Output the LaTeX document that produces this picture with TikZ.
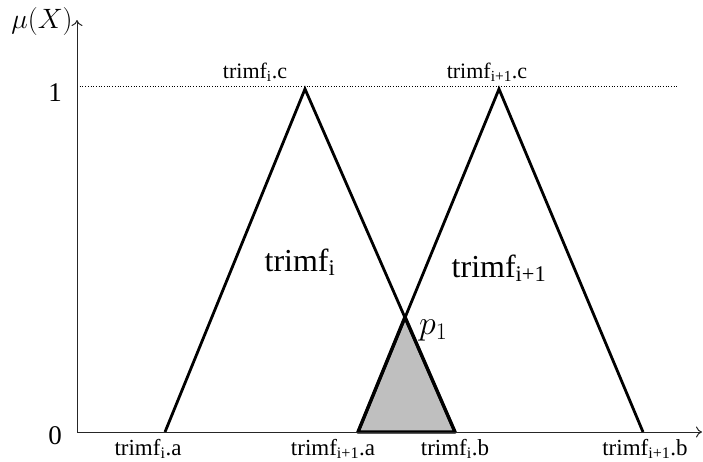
\RequirePackage{fix-cm}
\documentclass[tikz,border=0pt]{standalone}
\usepackage{fontspec}
\setmainfont{Liberation Serif}
\usetikzlibrary{arrows.meta}
\tikzset{
  axis/.style={line width=1pt, draw=black!85, -{To[length=6pt,width=11pt]}},
  tri/.style={line width=2.8pt, line join=miter},
  shade/.style={line width=3.4pt, fill=black!25, line join=round},
  lblsmall/.style={font=\fontsize{23}{25}\selectfont, inner sep=0pt},
  lbltop/.style={font=\fontsize{22}{24}\selectfont, inner sep=0pt},
  lblbig/.style={font=\fontsize{32}{35}\selectfont, inner sep=0pt},
  lbltick/.style={font=\fontsize{27}{30}\selectfont, inner sep=0pt},
  mathlbl/.style={font=\fontsize{28}{30}\selectfont, inner sep=0pt},
  plbl/.style={font=\fontsize{34}{36}\selectfont, inner sep=0pt},
}
\newcommand{\sbs}[1]{\textsubscript{#1}}
\begin{document}
\begin{tikzpicture}[x=1pt,y=-1pt]
\useasboundingbox (0,0) rectangle (703,461);
% coordinates
\coordinate (O) at (77,432);
\coordinate (ytop) at (77,20);
\coordinate (xend) at (702,432);
\coordinate (d1) at (77,86);
\coordinate (d2) at (678,86);
\coordinate (Ia) at (165,432);
\coordinate (Ic) at (305,89);
\coordinate (Ib) at (455,432);
\coordinate (Ja) at (358,432);
\coordinate (Jc) at (499,89);
\coordinate (Jb) at (643,432);
\coordinate (P) at (405,317);
% dotted level line
\draw[dotted, line width=0.7pt] (d1) -- (d2);
% shaded area
\draw[shade] (Ja) -- (P) -- (Ib) -- cycle;
% triangles
\draw[tri] (Ia) -- (Ic) -- (Ib);
\draw[tri] (Ja) -- (Jc) -- (Jb);
% axes
\draw[axis] (O) -- (ytop);
\draw[axis] (O) -- (xend);
% labels
\node[mathlbl, anchor=base] (mu) at (42,28) {$\mu(X)$};
\node[lbltick, anchor=base] (one) at (55,101) {1};
\node[lbltick, anchor=base] (zero) at (55,444) {0};
\node[lbltop, anchor=base] (tic) at (255,78) {trimf\sbs{i}.c};
\node[lbltop, anchor=base] (tjc) at (487,78) {trimf\sbs{i+1}.c};
\node[lblbig, anchor=base] (ti) at (300,271) {trimf\sbs{i}};
\node[lblbig, anchor=base] (tj) at (499,277) {trimf\sbs{i+1}};
\node[plbl, anchor=base west] (p1) at (419,334) {$p_1$};
\node[lblsmall, anchor=base] (tia) at (148,455) {trimf\sbs{i}.a};
\node[lblsmall, anchor=base] (tja) at (333,455) {trimf\sbs{i+1}.a};
\node[lblsmall, anchor=base] (tib) at (455,455) {trimf\sbs{i}.b};
\node[lblsmall, anchor=base] (tjb) at (645,455) {trimf\sbs{i+1}.b};
\end{tikzpicture}
\end{document}
